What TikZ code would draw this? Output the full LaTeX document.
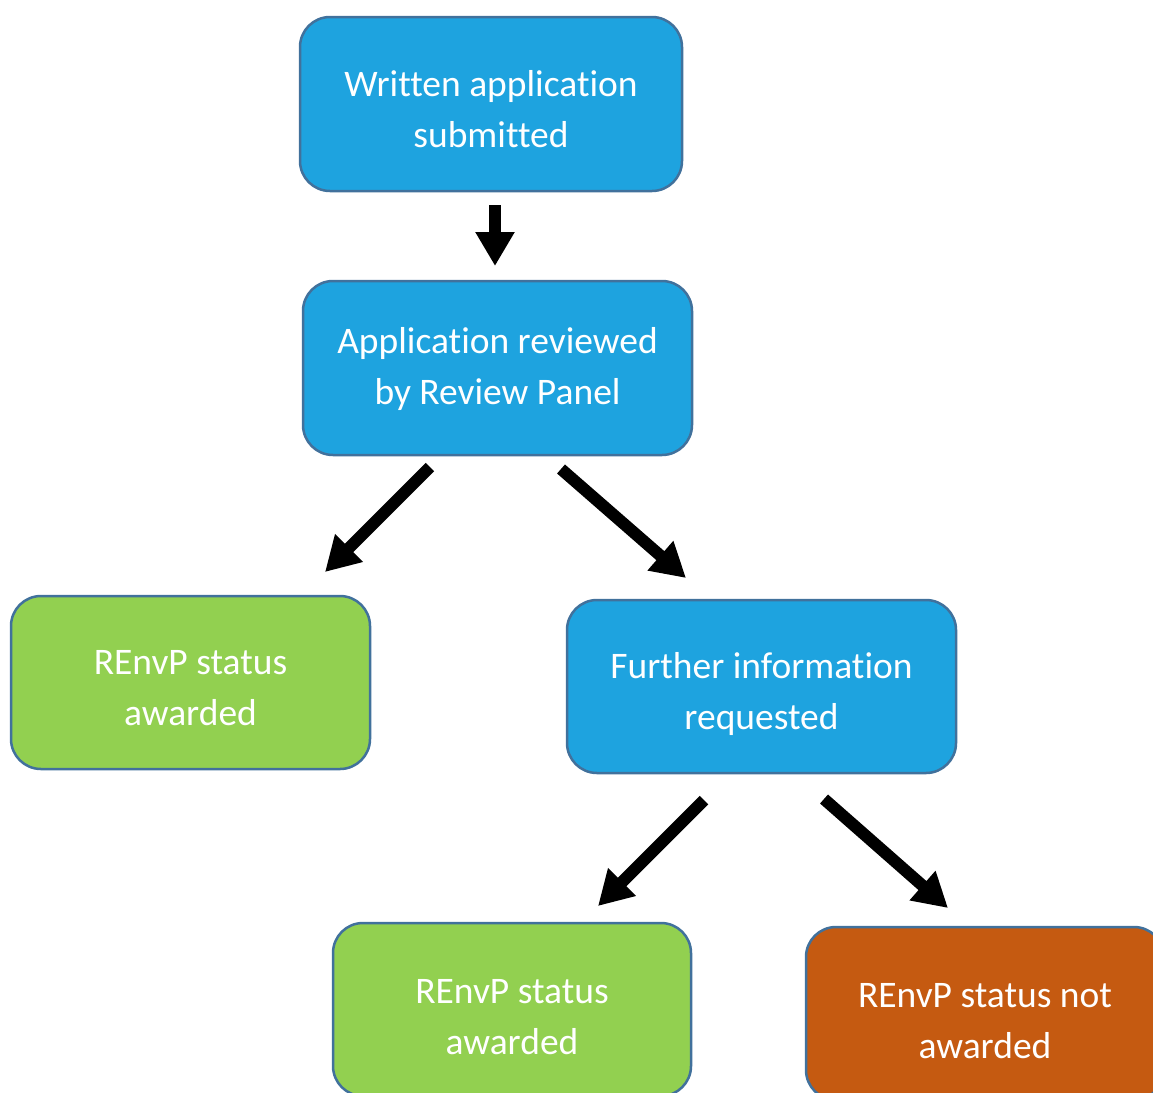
\documentclass[tikz,border=0pt]{standalone}
\usepackage{fontspec}
\setmainfont[Ligatures=NoCommon]{Carlito}
\usetikzlibrary{arrows.meta}
\definecolor{boxblue}{HTML}{1EA3DF}
\definecolor{boxgreen}{HTML}{92D050}
\definecolor{boxorange}{HTML}{C55A11}
\definecolor{boxedge}{HTML}{41719C}
\newcommand{\twoline}[3][50.3pt]{\begin{tabular}{@{}c@{}}\rule{0pt}{#1}#2\\#3\end{tabular}}
\tikzset{
  stage/.style={draw=boxedge, line width=2.5pt, rounded corners=30pt, text=white,
    inner sep=0pt, font=\fontsize{37.5}{51}\selectfont},
  bluebox/.style={stage, fill=boxblue},
  greenbox/.style={stage, fill=boxgreen},
  orangebox/.style={stage, fill=boxorange},
  flow/.style={line width=12pt, -{Triangle[width=37pt,length=34pt]}}
}
\begin{document}
\begin{tikzpicture}[x=1pt,y=-1pt]
\useasboundingbox (0,0) rectangle (1153,1092);
\node[bluebox, minimum width=382pt, minimum height=174pt] (submit) at (491,104) {\twoline{Written application}{submitted}};
\node[bluebox, minimum width=389pt, minimum height=174pt] (review) at (497.5,368) {\twoline[36.3pt]{Application reviewed}{by Review Panel}};
\node[greenbox, minimum width=359pt, minimum height=173pt] (award1) at (190.5,682.5) {\twoline{REnvP status}{awarded}};
\node[bluebox, minimum width=389pt, minimum height=173pt] (further) at (761.5,686.5) {\twoline{Further information}{requested}};
\node[greenbox, minimum width=358pt, minimum height=173pt] (award2) at (512,1009.5) {\twoline[53.5pt]{REnvP status}{awarded}};
\node[orangebox, minimum width=358pt, minimum height=173pt] (notaward) at (985,1013.5) {\twoline[55pt]{REnvP status not}{awarded}};
\coordinate (a1s) at (495,205);
\coordinate (a1e) at (495,266);
\coordinate (a2s) at (430,467);
\coordinate (a2e) at (325,572);
\coordinate (a3s) at (561,469);
\coordinate (a3e) at (686,578);
\coordinate (a4s) at (704,800);
\coordinate (a4e) at (598,906);
\coordinate (a5s) at (824,799);
\coordinate (a5e) at (948,908);
\draw[flow] (a1s) -- (a1e);
\draw[flow] (a2s) -- (a2e);
\draw[flow] (a3s) -- (a3e);
\draw[flow] (a4s) -- (a4e);
\draw[flow] (a5s) -- (a5e);
\end{tikzpicture}
\end{document}
